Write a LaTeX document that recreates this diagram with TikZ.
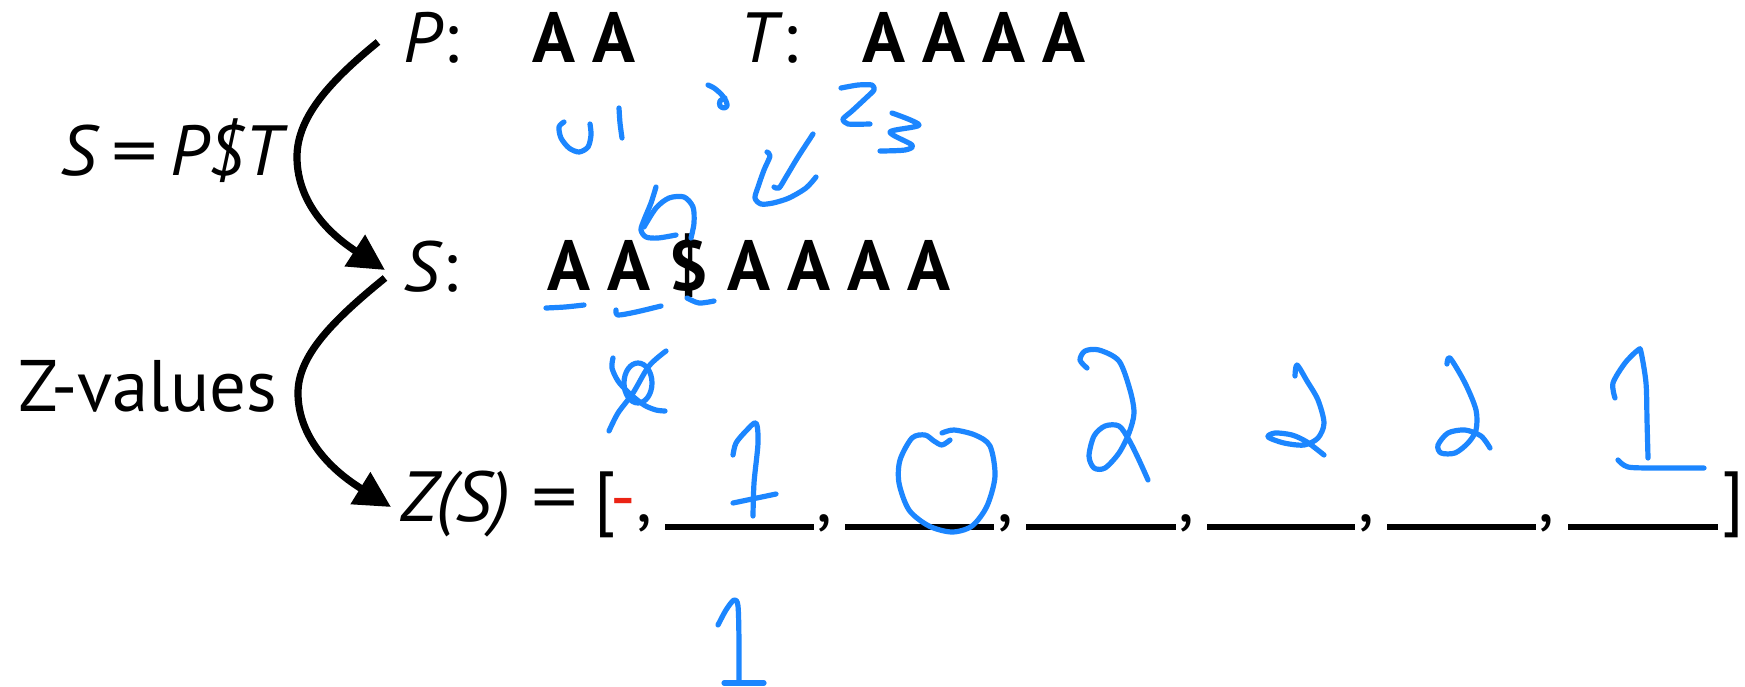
\documentclass[tikz,border=0pt]{standalone}
\usepackage{fontspec}
\setmainfont{PT Sans}
\usetikzlibrary{arrows.meta}
\definecolor{ink}{RGB}{28,134,255}
\definecolor{redink}{RGB}{235,35,20}
\begin{document}
\begin{tikzpicture}[x=1pt,y=-1pt,
  txt/.style={inner sep=0pt, outer sep=0pt, font=\fontsize{71}{80}\selectfont},
  lbl/.style={txt, anchor=base west},
  ctr/.style={txt, anchor=base},
  bA/.style={inner sep=0pt, outer sep=0pt, anchor=base, font=\fontsize{71}{80}\selectfont\bfseries},
  hand/.style={draw=ink, line width=5.2pt, line cap=round, line join=round},
  arr/.style={draw=black, line width=7.2pt, -{Triangle[length=36pt,width=36pt]}},
  blank/.style={draw=black, line width=6pt}]
\fill[white] (0,0) rectangle (1745,686);
\useasboundingbox (0,0) rectangle (1745,686);

% left labels
\node[lbl] (eqlabel) at (60,175) {\textit{S}\,\scalebox{1.3}[1]{=}\,\textit{P\$T}};
\node[lbl, font=\fontsize{73}{80}\selectfont] (zvals) at (18,411) {Z-values};

% row 1
\node[lbl] (P) at (403,62) {\textit{P}:};
\node[bA] (p1) at (554,62) {A};
\node[bA] (p2) at (614,62) {A};
\node[lbl] (T) at (739,62) {\textit{T}:};
\node[bA] (t1) at (884,62) {A};
\node[bA] (t2) at (944,62) {A};
\node[bA] (t3) at (1004,62) {A};
\node[bA] (t4) at (1064,62) {A};

% row 2
\node[lbl] (S) at (403,291) {\textit{S}:};
\node[bA] (s1) at (569,290) {A};
\node[bA] (s2) at (629,290) {A};
\node[bA] (s3) at (689,290) {\$};
\node[bA] (s4) at (749,290) {A};
\node[bA] (s5) at (809,290) {A};
\node[bA] (s6) at (869,290) {A};
\node[bA] (s7) at (929,290) {A};

% row 3
\node[lbl] (ZS) at (400,521) {\textit{Z(S)}};
\node[ctr] (zeq) at (554.5,521) {\scalebox{1.3}[1]{=}};
\node[lbl] (lbr) at (594,521) {[};
\node[ctr, text=redink] (rdash) at (623,521) {-};
\node[lbl] (c0) at (636,521) {,};
\draw[blank] (665,527) -- (814,527);
\node[lbl] (c1) at (816,521) {,};
\draw[blank] (845,527) -- (994,527);
\node[lbl] (c2) at (997,521) {,};
\draw[blank] (1026,527) -- (1176,527);
\node[lbl] (c3) at (1178,521) {,};
\draw[blank] (1207,527) -- (1355,527);
\node[lbl] (c4) at (1358,521) {,};
\draw[blank] (1387,527) -- (1536,527);
\node[lbl] (c5) at (1538,521) {,};
\draw[blank] (1568,527) -- (1718,527);
\node[txt, anchor=base east] (rbr) at (1744,521) {]};

% arrows
\coordinate (a1s) at (378,42);
\coordinate (a1m) at (297,157);
\coordinate (a1e) at (385,270);
\coordinate (a2s) at (385,278);
\coordinate (a2m) at (298,393);
\coordinate (a2e) at (391,507);
\draw[arr] (a1s) .. controls (325,85) and (297,120) .. (a1m) .. controls (297,195) and (320,228) .. (a1e);
\draw[arr] (a2s) .. controls (332,321) and (298,356) .. (a2m) .. controls (298,431) and (323,465) .. (a2e);

% handwriting
\draw[hand] plot[smooth] coordinates {(564,122) (559,127) (561,138) (569,148) (579,152) (588,147) (591,135) (590,124)};
\draw[hand] plot[smooth] coordinates {(619,108) (620,123) (622,138)};
\draw[hand] plot[smooth] coordinates {(708,85) (714,88) (721,94) (726,101) (727,106) (724,108) (720,106) (720,101) (725,98)};
\draw[hand] plot[smooth, tension=0.4] coordinates {(841,88) (858,85) (872,85) (874,90) (866,98) (852,111) (843,119) (848,124) (870,124)};
\draw[hand] plot[smooth, tension=0.5] coordinates {(892,113) (919,125) (890,132) (912,145) (905,150) (880,151)};
\draw[hand] plot[smooth] coordinates {(767,152) (770,156) (764,170) (758,187) (755,198) (761,204) (773,203) (789,198) (806,188) (816,177)};
\draw[hand] plot[smooth] coordinates {(813,134) (798,157) (786,177) (779,188) (774,187)};
\draw[hand] plot[smooth] coordinates {(656,187) (651,203) (644,220) (641,230) (646,237) (658,238) (676,235)};
\draw[hand] plot[smooth] coordinates {(644,227) (656,208) (669,198) (684,197) (693,207) (694,223) (691,238)};
\draw[hand] plot[smooth] coordinates {(546,308) (565,307) (584,305)};
\draw[hand] plot[smooth] coordinates {(616,310) (618,315) (636,312) (661,306)};
\draw[hand] plot[smooth] coordinates {(687,298) (699,303) (714,301)};
% crossed zero
\draw[hand] (638,383) ellipse[x radius=14, y radius=20];
\draw[hand] plot[smooth] coordinates {(613,358) (612,368) (618,381) (629,393) (644,405) (656,410) (665,411)};
\draw[hand] plot[smooth] coordinates {(666,351) (649,366) (633,393) (618,413) (609,431)};
% 1 with bar
\draw[hand] plot[smooth] coordinates {(733,455) (736,443) (746,431) (756,423) (758,443) (754,483) (753,516)};
\draw[hand] (733,503) -- (776,494);
% 1 below
\draw[hand] plot[smooth] coordinates {(718,625) (726,610) (734,600) (738,606) (739,643) (739,681)};
\draw[hand] (724,683) -- (764,683);
% 0
\draw[hand] plot[smooth] coordinates {(950,440) (942,445) (934,441) (925,435) (912,438) (900,460) (899,483) (909,510) (929,526) (952,532) (972,526) (987,506) (995,476) (990,446) (975,435) (954,430) (942,433)};
% 2s
\draw[hand] plot[smooth] coordinates {(1087,368) (1080,360) (1085,351) (1099,350) (1119,361) (1130,390) (1134,413) (1129,433) (1119,453) (1105,468) (1094,468) (1089,456) (1094,436) (1105,426) (1119,426) (1129,440) (1139,460) (1148,480)};
\draw[hand] plot[smooth] coordinates {(1295,376) (1297,365) (1307,381) (1318,400) (1324,423) (1318,438) (1304,445) (1284,443) (1268,437) (1275,433) (1292,435) (1307,442) (1324,455)};
\draw[hand] plot[smooth] coordinates {(1447,364) (1450,358) (1465,383) (1476,410) (1476,430) (1468,443) (1455,453) (1441,453) (1438,445) (1448,433) (1465,430) (1481,436) (1490,448)};
% last 1
\draw[hand] plot[smooth] coordinates {(1615,398) (1613,383) (1625,363) (1638,350) (1641,352) (1646,383) (1647,420) (1648,458)};
\draw[hand] plot[smooth] coordinates {(1618,460) (1628,467) (1655,468) (1704,468)};
\end{tikzpicture}
\end{document}
